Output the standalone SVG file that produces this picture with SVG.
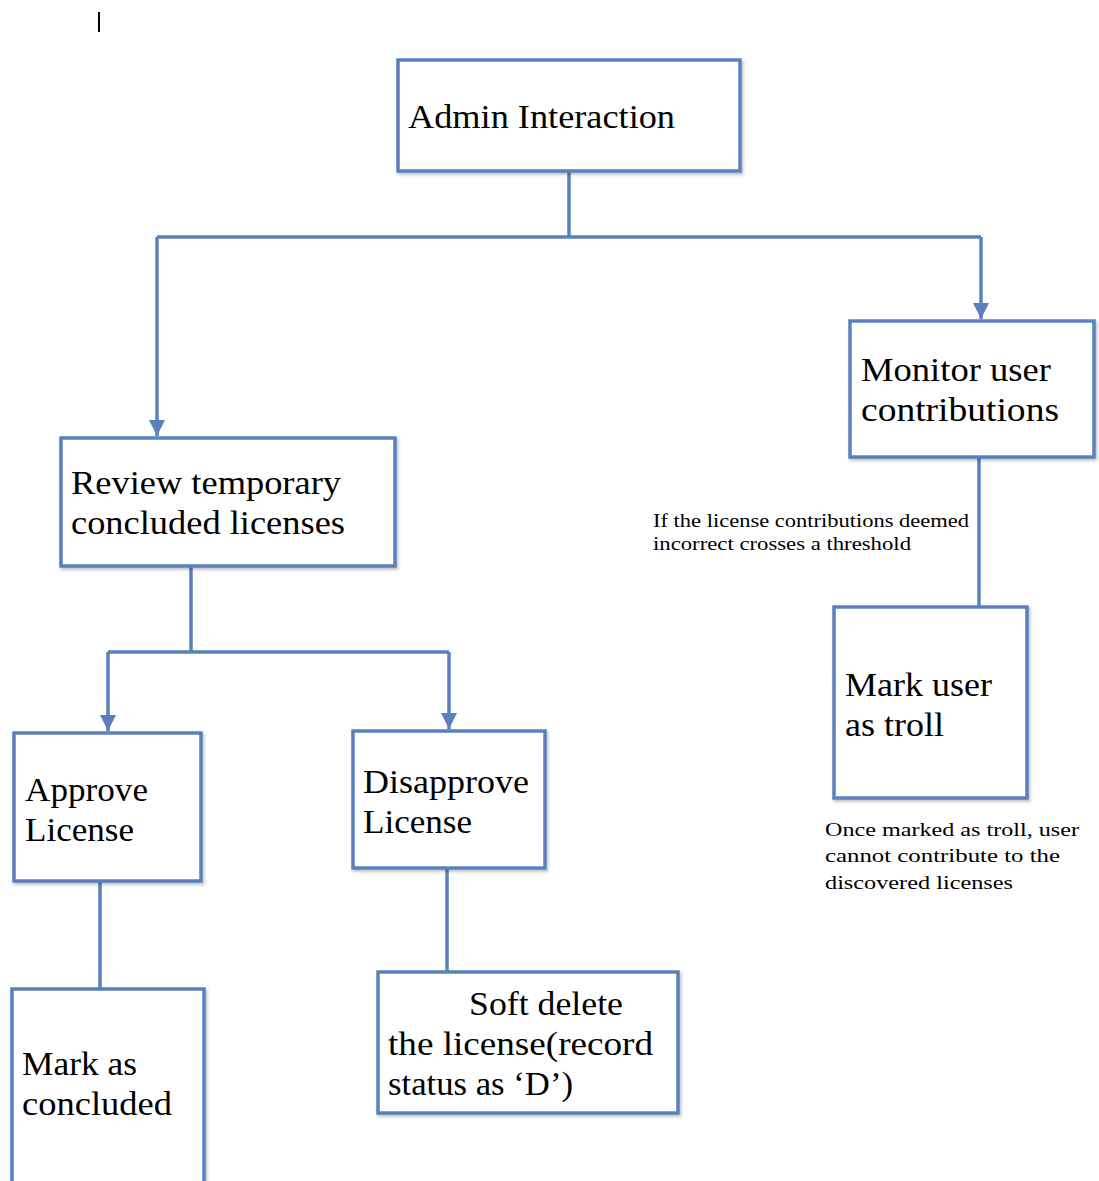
<svg xmlns="http://www.w3.org/2000/svg" width="1099" height="1181" viewBox="0 0 1099 1181">
<defs>
<style>
.box{fill:#ffffff;stroke:#5a81bb;stroke-width:3.5;filter:url(#sh)}
.con{fill:none;stroke:#5a81bb;stroke-width:3.5}
.big{font-family:"Liberation Serif","DejaVu Serif",serif;font-size:34px;fill:#000}
.sm{font-family:"Liberation Serif","DejaVu Serif",serif;font-size:19.5px;fill:#000}
</style>
<filter id="sh" x="-10%" y="-10%" width="130%" height="130%">
<feDropShadow dx="1.5" dy="2" stdDeviation="1.5" flood-color="#000" flood-opacity="0.25"/>
</filter>
<marker id="ah" viewBox="0 0 10 10" refX="10" refY="5" markerWidth="4.6" markerHeight="4.6" markerUnits="strokeWidth" orient="auto">
<path d="M0,0 L10,5 L0,10 z" fill="#5a81bb"/>
</marker>
</defs>
<rect width="1099" height="1181" fill="#ffffff"/>
<rect x="98" y="12" width="2" height="20" fill="#000"/>
<g id="connectors">
<path class="con" d="M569,171 V237"/>
<path class="con" d="M157,237 H981"/>
<path class="con" d="M157,237 V436" marker-end="url(#ah)"/>
<path class="con" d="M981,237 V319" marker-end="url(#ah)"/>
<path class="con" d="M191,566 V652"/>
<path class="con" d="M108,652 H449"/>
<path class="con" d="M108,652 V731" marker-end="url(#ah)"/>
<path class="con" d="M449,652 V729" marker-end="url(#ah)"/>
<path class="con" d="M100,881 V991"/>
<path class="con" d="M447,868 V972"/>
<path class="con" d="M979,457 V607"/>
</g>
<g id="admin">
<rect class="box" x="398" y="60" width="342" height="111"/>
<text class="big" x="408" y="128" textLength="267" lengthAdjust="spacingAndGlyphs">Admin Interaction</text>
</g>
<g id="monitor">
<rect class="box" x="850" y="321" width="244" height="136"/>
<text class="big" x="861" y="381" textLength="190" lengthAdjust="spacingAndGlyphs">Monitor user</text>
<text class="big" x="861" y="421" textLength="198" lengthAdjust="spacingAndGlyphs">contributions</text>
</g>
<g id="review">
<rect class="box" x="61" y="438" width="334" height="128"/>
<text class="big" x="71" y="494" textLength="270" lengthAdjust="spacingAndGlyphs">Review temporary</text>
<text class="big" x="71" y="534" textLength="274" lengthAdjust="spacingAndGlyphs">concluded licenses</text>
</g>
<g id="approve">
<rect class="box" x="14" y="733" width="187" height="148"/>
<text class="big" x="25" y="801" textLength="123" lengthAdjust="spacingAndGlyphs">Approve</text>
<text class="big" x="25" y="841" textLength="109" lengthAdjust="spacingAndGlyphs">License</text>
</g>
<g id="disapprove">
<rect class="box" x="353" y="731" width="192" height="137"/>
<text class="big" x="363" y="793" textLength="166" lengthAdjust="spacingAndGlyphs">Disapprove</text>
<text class="big" x="363" y="833" textLength="109" lengthAdjust="spacingAndGlyphs">License</text>
</g>
<g id="concluded">
<rect class="box" x="12" y="989" width="192" height="200"/>
<text class="big" x="22" y="1075" textLength="115" lengthAdjust="spacingAndGlyphs">Mark as</text>
<text class="big" x="22" y="1115" textLength="150" lengthAdjust="spacingAndGlyphs">concluded</text>
</g>
<g id="softdelete">
<rect class="box" x="378" y="972" width="300" height="141"/>
<text class="big" x="469" y="1015" textLength="154" lengthAdjust="spacingAndGlyphs">Soft delete</text>
<text class="big" x="388" y="1055" textLength="265" lengthAdjust="spacingAndGlyphs">the license(record</text>
<text class="big" x="388" y="1095" textLength="185" lengthAdjust="spacingAndGlyphs">status as ‘D’)</text>
</g>
<g id="troll">
<rect class="box" x="834" y="607" width="193" height="191"/>
<text class="big" x="845" y="696" textLength="147" lengthAdjust="spacingAndGlyphs">Mark user</text>
<text class="big" x="845" y="736" textLength="99" lengthAdjust="spacingAndGlyphs">as troll</text>
</g>
<g id="note-threshold">
<text class="sm" x="653" y="527" textLength="316" lengthAdjust="spacingAndGlyphs">If the license contributions deemed</text>
<text class="sm" x="653" y="550" textLength="258" lengthAdjust="spacingAndGlyphs">incorrect crosses a threshold</text>
</g>
<g id="note-troll">
<text class="sm" x="825" y="836" textLength="254" lengthAdjust="spacingAndGlyphs">Once marked as troll, user</text>
<text class="sm" x="825" y="862" textLength="235" lengthAdjust="spacingAndGlyphs">cannot contribute to the</text>
<text class="sm" x="825" y="889" textLength="188" lengthAdjust="spacingAndGlyphs">discovered licenses</text>
</g>
</svg>
